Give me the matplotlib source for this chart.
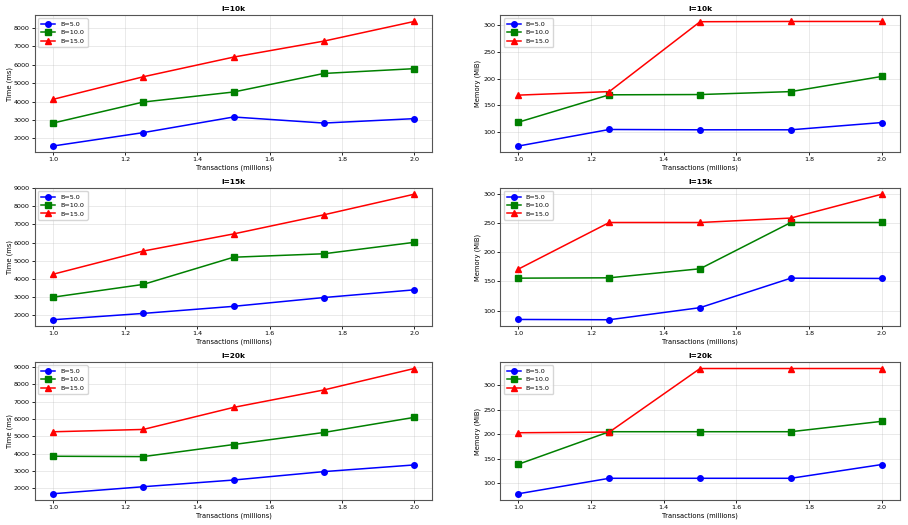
import matplotlib
matplotlib.use("Agg")
import matplotlib.pyplot as plt

transactions = [1.0, 1.25, 1.5, 1.75, 2.0]
b_labels = ["B=5.0", "B=10.0", "B=15.0"]
i_labels = ["I=10k", "I=15k", "I=20k"]

time_10k_b5 = [1580, 2310, 3160, 2830, 3070]
time_10k_b10 = [2830, 3975, 4520, 5530, 5790]
time_10k_b15 = [4120, 5350, 6420, 7290, 8360]
mem_10k_b5 = [74, 105, 104.4, 104.4, 118]
mem_10k_b10 = [118.7, 170, 170.5, 176, 204.4]
mem_10k_b15 = [169.4, 176, 307, 307.5, 307.5]

time_15k_b5 = [1740, 2090, 2480, 2965, 3390]
time_15k_b10 = [2985, 3690, 5190, 5380, 6010]
time_15k_b15 = [4250, 5530, 6475, 7530, 8665]
mem_15k_b5 = [85, 84.5, 105.2, 155.7, 155.2]
mem_15k_b10 = [155.7, 156.3, 171.8, 251, 251]
mem_15k_b15 = [171.3, 251, 251, 258.6, 299.4]

time_20k_b5 = [1690, 2095, 2480, 2965, 3350]
time_20k_b10 = [3850, 3830, 4525, 5220, 6090]
time_20k_b15 = [5260, 5395, 6665, 7670, 8905]
mem_20k_b5 = [78, 109.6, 109.6, 109.6, 137.7]
mem_20k_b10 = [138.4, 204.8, 204.8, 204.8, 226]
mem_20k_b15 = [202.7, 204, 334, 334, 334]

time_data = [
    [time_10k_b5, time_10k_b10, time_10k_b15],
    [time_15k_b5, time_15k_b10, time_15k_b15],
    [time_20k_b5, time_20k_b10, time_20k_b15],
]
mem_data = [
    [mem_10k_b5, mem_10k_b10, mem_10k_b15],
    [mem_15k_b5, mem_15k_b10, mem_15k_b15],
    [mem_20k_b5, mem_20k_b10, mem_20k_b15],
]

colors = ["blue", "green", "red"]
markers = ["o", "s", "^"]

fig = plt.figure(figsize=(9.08, 5.25), dpi=100)
lefts = [0.0385, 0.551]
width_l = 0.476 - 0.0385
width_r = 0.991 - 0.551
rows = [(0.710, 0.971), (0.379, 0.642), (0.0476, 0.310)]

for r, (bot, top) in enumerate(rows):
    for c in range(2):
        left = lefts[c]
        w = width_l if c == 0 else width_r
        ax = fig.add_axes([left, bot, w, top - bot])
        data = time_data[r] if c == 0 else mem_data[r]
        for k in range(3):
            ax.plot(transactions, data[k], color=colors[k], marker=markers[k],
                    markersize=4.0, linewidth=1.1, label=b_labels[k])
        ax.set_title(i_labels[r], fontsize=5.3, fontweight="bold", pad=3)
        ax.set_xlabel("Transactions (millions)", fontsize=4.9, labelpad=1.5)
        ax.set_ylabel("Time (ms)" if c == 0 else "Memory (MiB)", fontsize=4.9)
        if c == 0:
            ax.yaxis.set_label_coords(-0.055, 0.5)
        else:
            ax.yaxis.set_label_coords(-0.0475, 0.5)
        ax.tick_params(labelsize=4.6, length=2.2, pad=1.5, width=0.6)
        ax.grid(True, alpha=0.3, linewidth=0.6)
        for s in ax.spines.values():
            s.set_linewidth(0.8)
            s.set_color("#555555")
        ax.legend(loc="upper left", fontsize=4.6, handlelength=2.2,
                  borderpad=0.5, labelspacing=0.45, handletextpad=0.8,
                  frameon=True, fancybox=True)

fig.savefig("out.png", dpi=100)
